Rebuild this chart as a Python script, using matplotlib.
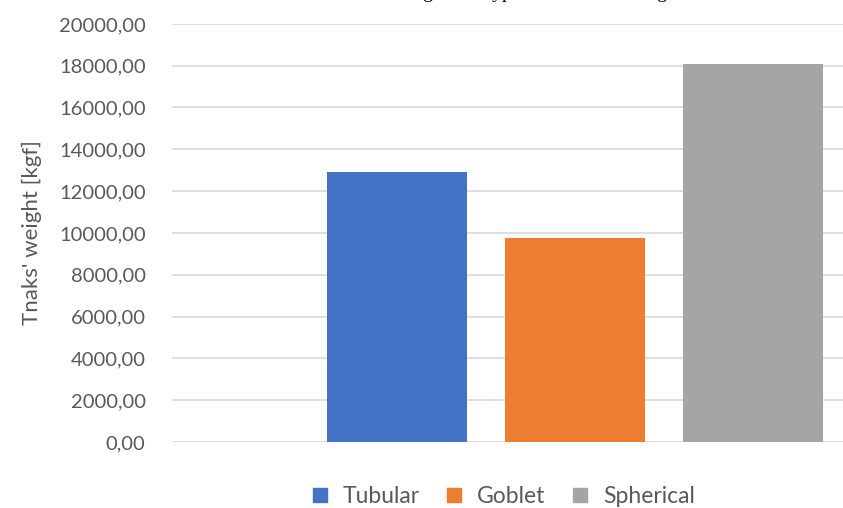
import matplotlib
matplotlib.use("Agg")
import matplotlib.pyplot as plt
from matplotlib.lines import Line2D
from matplotlib.ticker import FuncFormatter

# tank weights per design, kgf
tank_types = ["Tubular", "Goblet", "Spherical"]
weights = [12900, 9750, 18100]
colors = ["#4472C4", "#ED7D31", "#A5A5A5"]
yticks = [0, 2000, 4000, 6000, 8000, 10000, 12000, 14000, 16000, 18000, 20000]

plt.rcParams["font.family"] = ["Lato", "DejaVu Sans"]

fig = plt.figure(figsize=(8.43, 5.08), dpi=100)
ax = fig.add_axes([0.204, 0.130, 0.796, 0.823])

pos = [1, 2, 3]
ax.bar(pos, weights, width=0.787, color=colors, zorder=3)

ax.set_xlim(-0.264, 3.506)
ax.set_ylim(0, 20000)
ax.set_yticks(yticks)
ax.yaxis.set_major_formatter(FuncFormatter(lambda v, _: f"{v:.2f}".replace(".", ",")))
ax.set_xticks([])
ax.grid(axis="y", color="#D9D9D9", linewidth=1.2, zorder=0)
for s in ax.spines.values():
    s.set_visible(False)
ax.tick_params(axis="y", length=0, pad=19, labelsize=14.5, labelcolor="#595959")
ax.set_ylabel("Tnaks' weight [kgf]", fontsize=16, color="#595959", labelpad=12)

# chart title sits mostly above the canvas edge
fig.text(0.56, 1.003, "Total mass according to the type of each tank design",
         ha="center", va="baseline", fontsize=14, family="Liberation Serif")

handles = [Line2D([], [], marker="s", linestyle="none", markersize=10,
                  markerfacecolor=c, markeredgecolor=c) for c in colors]
fig.legend(handles, tank_types, loc="center", bbox_to_anchor=(0.588, 0.022),
           ncol=3, frameon=False, fontsize=16.5, handletextpad=0.0,
           columnspacing=0.5, labelcolor="#595959")

fig.savefig("out.png", dpi=100)
